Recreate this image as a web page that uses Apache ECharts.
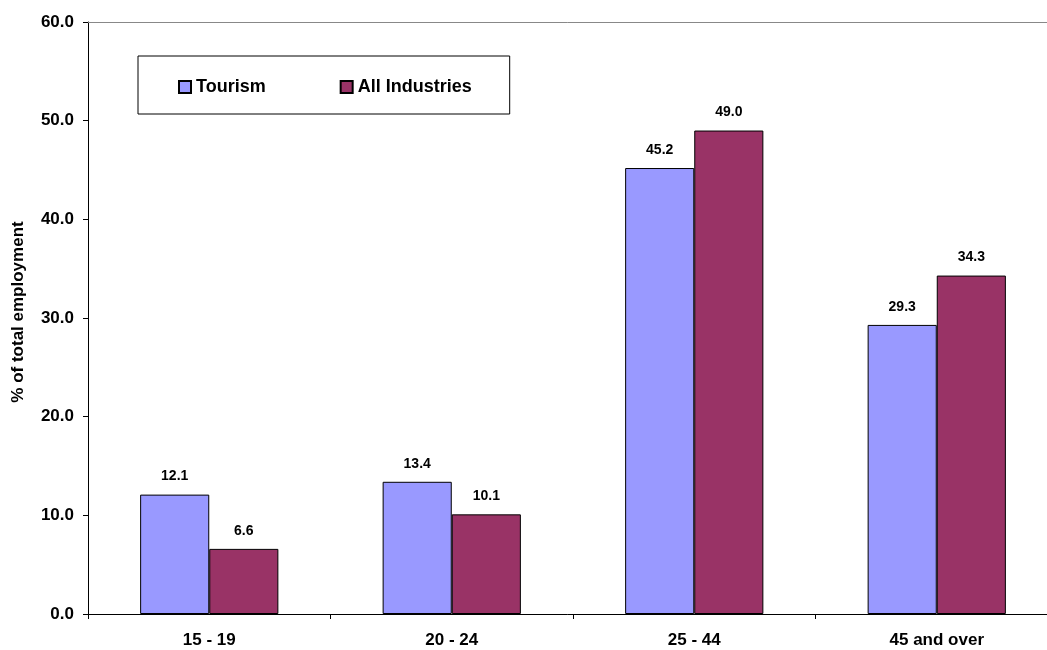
<!DOCTYPE html>
<html>
<head>
<meta charset="utf-8">
<script src="https://cdn.jsdelivr.net/npm/echarts@6/dist/echarts.min.js"></script>
<style>html,body{margin:0;padding:0;background:#fff}#c{width:1047px;height:650px}</style>
</head>
<body>
<div id="c"></div>
<script>
var categories = ['15 - 19', '20 - 24', '25 - 44', '45 and over'];
var tourism = [12.1, 13.4, 45.2, 29.3];
var allIndustries = [6.6, 10.1, 49.0, 34.3];
var seriesNames = ['Tourism', 'All Industries'];

var chart = echarts.init(document.getElementById('c'));
var F = '"Liberation Sans", Arial, sans-serif';
chart.setOption({
  animation: false,
  textStyle: {fontFamily: F},
  grid: {left: 88, right: -11, top: 22, bottom: 36, containLabel: false, outerBoundsMode: 'none'},
  legend: {
    left: 138, top: 56,
    padding: [22, 38, 18, 40],
    borderColor: '#000', borderWidth: 1,
    itemWidth: 12, itemHeight: 12, itemGap: 74,
    icon: 'rect',
    textStyle: {fontFamily: F, fontWeight: 'bold', fontSize: 18, color: '#000'},
    data: seriesNames
  },
  xAxis: [{
    type: 'category', data: categories,
    axisLine: {lineStyle: {color: '#000', width: 1}},
    axisTick: {show: true, length: 5, lineStyle: {color: '#000'}},
    axisLabel: {fontFamily: F, fontWeight: 'bold', fontSize: 17, color: '#000', margin: 18}
  }, {
    type: 'category', data: categories, position: 'top',
    axisLine: {show: true, lineStyle: {color: '#888', width: 1}},
    axisTick: {show: false}, axisLabel: {show: false}
  }],
  yAxis: {
    type: 'value', min: 0, max: 60, interval: 10,
    name: '% of total employment', nameLocation: 'middle', nameGap: 61,
    nameTextStyle: {fontFamily: F, fontWeight: 'bold', fontSize: 17, color: '#000', padding: [0, 0, 0, 12]},
    axisLine: {show: true, lineStyle: {color: '#000'}},
    axisTick: {show: true, length: 5, lineStyle: {color: '#000'}},
    splitLine: {show: false},
    axisLabel: {fontFamily: F, fontWeight: 'bold', fontSize: 17, color: '#000', margin: 14,
      formatter: function (v) { return v.toFixed(1); }}
  },
  series: [{
    name: seriesNames[0], type: 'bar', data: tourism,
    barGap: '0%', barCategoryGap: '43%',
    itemStyle: {color: '#9999FF', borderColor: '#000', borderWidth: 1},
    label: {show: true, position: 'top', distance: 11, fontFamily: F, fontWeight: 'bold', fontSize: 14, color: '#000',
      formatter: function (p) { return p.value.toFixed(1); }}
  }, {
    name: seriesNames[1], type: 'bar', data: allIndustries,
    itemStyle: {color: '#993366', borderColor: '#000', borderWidth: 1},
    label: {show: true, position: 'top', distance: 11, fontFamily: F, fontWeight: 'bold', fontSize: 14, color: '#000',
      formatter: function (p) { return p.value.toFixed(1); }}
  }]
});
</script>
</body>
</html>
